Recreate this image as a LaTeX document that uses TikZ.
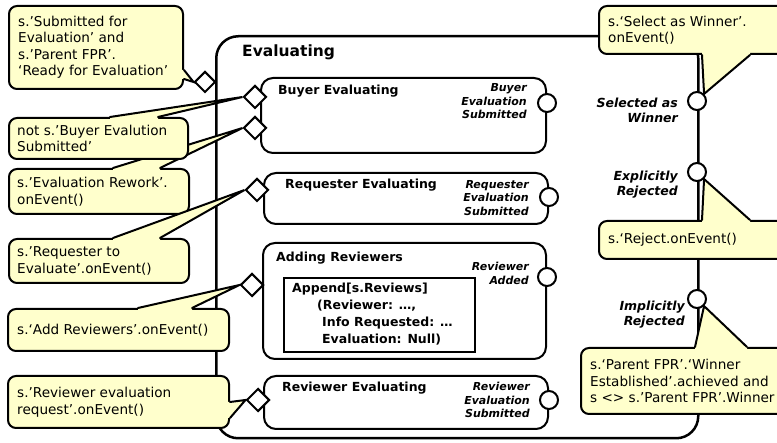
\documentclass[tikz,border=0pt]{standalone}
\usepackage{fontspec}
\setmainfont{DejaVu Sans}
\usetikzlibrary{shapes.geometric,calc}
\pgfdeclarelayer{front}
\pgfsetlayers{main,front}
\definecolor{notefill}{RGB}{255,255,204}
\tikzset{
  every node/.style={inner sep=0pt},
  mainbox/.style={rectangle, draw, line width=2.5pt, rounded corners=22pt},
  statebox/.style={rectangle, draw, line width=2pt, rounded corners=12pt},
  actionbox/.style={rectangle, draw, line width=2pt},
  notebox/.style={rectangle, draw, line width=2pt, rounded corners=8pt, fill=notefill},
  notetxt/.style={font=\fontsize{13.6}{16.5}\selectfont, align=left, anchor=west},
  bigtitle/.style={font=\fontsize{15.5}{18}\selectfont\bfseries, anchor=west},
  statetitle/.style={font=\fontsize{12.5}{17}\selectfont\bfseries, anchor=west},
  exitlbl/.style={font=\fontsize{11}{13.5}\selectfont\bfseries\itshape, align=right, anchor=east},
  outlbl/.style={font=\fontsize{12.5}{15}\selectfont\bfseries\itshape, align=right, anchor=east},
  entrypt/.style={diamond, draw, fill=white, line width=2pt, minimum size=23pt, aspect=1},
  exitpt/.style={circle, draw, fill=white, line width=2pt, minimum size=18pt},
  tailline/.style={line width=2pt, line join=miter, line cap=round},
}
% pointer of a note: base point 1, base point 2, tip, offset into the note body
\newcommand\notetail[4]{%
  \fill[notefill] (#1) -- (#3) -- (#2) -- ($(#2)+#4$) -- ($(#1)+#4$) -- cycle;
  \draw[tailline] (#1) -- (#3) -- (#2);
}
\begin{document}
\begin{tikzpicture}[x=1pt, y=-1pt]
\useasboundingbox (0,0) rectangle (777,443);
\fill[white] (0,0) rectangle (777,443);

% composite state
\node[mainbox, minimum width=482pt, minimum height=402pt, anchor=north west] (eval) at (215,35) {};
\node[bigtitle] (evalT) at (242,52.5) {Evaluating};

% sub-states
\node[statebox, minimum width=285pt, minimum height=75pt, anchor=north west] (buyer) at (260,77) {};
\node[statetitle] (buyerT) at (278,91.5) {Buyer Evaluating};
\node[exitlbl] (buyerL) at (527,101.5) {Buyer\\Evaluation\\Submitted};

\node[statebox, minimum width=284pt, minimum height=51pt, anchor=north west] (req) at (263,172) {};
\node[statetitle] (reqT) at (285,185.5) {Requester Evaluating};
\node[exitlbl] (reqL) at (529,198) {Requester\\Evaluation\\Submitted};

\node[statebox, minimum width=283pt, minimum height=116pt, anchor=north west] (add) at (262,242) {};
\node[statetitle] (addT) at (276,258.5) {Adding Reviewers};
\node[exitlbl] (addL) at (529,273.5) {Reviewer\\Added};
\node[actionbox, minimum width=191pt, minimum height=74pt, anchor=north west] (append) at (283,277) {};
\node[statetitle, align=left] (appendT) at (292,314.5)
  {Append[s.Reviews]\\\hspace*{25pt}(Reviewer: …,\\\hspace*{30pt}Info Requested: …\\\hspace*{30pt}Evaluation: Null)};

\node[statebox, minimum width=284pt, minimum height=53pt, anchor=north west] (rev) at (263,375) {};
\node[statetitle] (revT) at (282,388) {Reviewer Evaluating};
\node[exitlbl] (revL) at (530,400) {Reviewer\\Evaluation\\Submitted};

% outcome labels
\node[outlbl] (winL) at (678,110.5) {Selected as\\Winner};
\node[outlbl] (expL) at (678,185) {Explicitly\\Rejected};
\node[outlbl] (impL) at (685,315) {Implicitly\\Rejected};

% entry and exit points
\begin{pgfonlayer}{front}
\node[entrypt, minimum size=21pt] (dA) at (205,82) {};
\node[entrypt] (dB1) at (255,97) {};
\node[entrypt] (dB2) at (255,128) {};
\node[entrypt] (dR) at (257,190) {};
\node[entrypt] (dAdd) at (252,285) {};
\node[entrypt] (dRev) at (258,400) {};
\node[exitpt] (xB) at ($(buyer.north east)+(0,26)$) {};
\node[exitpt] (xR) at ($(req.north east)+(0,25)$) {};
\node[exitpt] (xAdd) at ($(add.north east)+(0,35)$) {};
\node[exitpt] (xRev) at ($(rev.north east)+(0,25)$) {};
\node[exitpt] (cW) at (697,101) {};
\node[exitpt] (cE) at (697,172) {};
\node[exitpt] (cI) at (697,299) {};
\end{pgfonlayer}

% notes
\node[notebox, minimum width=174pt, minimum height=83pt, anchor=north west] (nA) at (8,5) {};
\coordinate (nA1) at ($(nA.north east)+(0,65)$);
\coordinate (nA2) at ($(nA.north east)+(0,74)$);
\notetail{nA1}{nA2}{dA.west}{(-4,0)}
\node[notetxt] (tA) at ($(nA.west)+(10,0)$) {s.’Submitted for\\Evaluation’ and\\s.’Parent FPR’.\\‘Ready for Evaluation’};

\node[notebox, minimum width=180pt, minimum height=45pt, anchor=north west] (nC) at (8,168) {};
\coordinate (nC1) at ($(nC.north west)+(105,0)$);
\coordinate (nC2) at ($(nC.north west)+(152,0)$);
\notetail{nC1}{nC2}{dB2.west}{(0,4)}
\node[notetxt] (tC) at ($(nC.west)+(9,0)$) {s.’Evaluation Rework’.\\onEvent()};

\node[notebox, minimum width=179pt, minimum height=41pt, anchor=north west] (nB) at (8,117) {};
\coordinate (nB1) at ($(nB.north west)+(102,0)$);
\coordinate (nB2) at ($(nB.north west)+(150,0)$);
\notetail{nB1}{nB2}{dB1.west}{(0,4)}
\node[notetxt] (tB) at ($(nB.west)+(9,0)$) {not s.’Buyer Evalution\\Submitted’};

\node[notebox, minimum width=180pt, minimum height=44pt, anchor=north west] (nD) at (8,238) {};
\coordinate (nD1) at ($(nD.north west)+(105,0)$);
\coordinate (nD2) at ($(nD.north west)+(152,0)$);
\notetail{nD1}{nD2}{dR.west}{(0,4)}
\node[notetxt] (tD) at ($(nD.west)+(9,0)$) {s.’Requester to\\Evaluate’.onEvent()};

\node[notebox, minimum width=221pt, minimum height=42pt, anchor=north west] (nE) at (7,308) {};
\coordinate (nE1) at ($(nE.north west)+(131,0)$);
\coordinate (nE2) at ($(nE.north west)+(185,0)$);
\notetail{nE1}{nE2}{dAdd.west}{(0,4)}
\node[notetxt] (tE) at ($(nE.west)+(10,0)$) {s.‘Add Reviewers’.onEvent()};

\node[notebox, minimum width=221pt, minimum height=52pt, anchor=north west] (nF) at (7,375) {};
\coordinate (nF1) at ($(nF.north east)+(0,27)$);
\coordinate (nF2) at ($(nF.north east)+(0,43)$);
\notetail{nF1}{nF2}{dRev.west}{(-4,0)}
\node[notetxt] (tF) at ($(nF.west)+(10,0)$) {s.’Reviewer evaluation\\request’.onEvent()};

\node[notebox, minimum width=200pt, minimum height=48pt, anchor=north west] (nG) at (598,5) {};
\coordinate (nG1) at ($(nG.south west)+(104,0)$);
\coordinate (nG2) at ($(nG.south west)+(152,0)$);
\notetail{nG1}{nG2}{cW.north east}{(0,-4)}
\node[notetxt] (tG) at ($(nG.west)+(10,0)$) {s.‘Select as Winner’.\\onEvent()};

\node[notebox, minimum width=200pt, minimum height=38pt, anchor=north west] (nH) at (598,220) {};
\coordinate (nH1) at ($(nH.north west)+(104,0)$);
\coordinate (nH2) at ($(nH.north west)+(152,0)$);
\notetail{nH1}{nH2}{cE.south east}{(0,4)}
\node[notetxt] (tH) at ($(nH.west)+(10,0)$) {s.‘Reject.onEvent()};

\node[notebox, minimum width=220pt, minimum height=66pt, anchor=north west] (nI) at (580,347) {};
\coordinate (nI1) at ($(nI.north west)+(115,0)$);
\coordinate (nI2) at ($(nI.north west)+(167,0)$);
\notetail{nI1}{nI2}{cI.south east}{(0,4)}
\node[notetxt] (tI) at ($(nI.west)+(10,0)$) {s.‘Parent FPR’.‘Winner\\Established’.achieved and\\s <> s.’Parent FPR’.Winner};
\end{tikzpicture}
\end{document}
